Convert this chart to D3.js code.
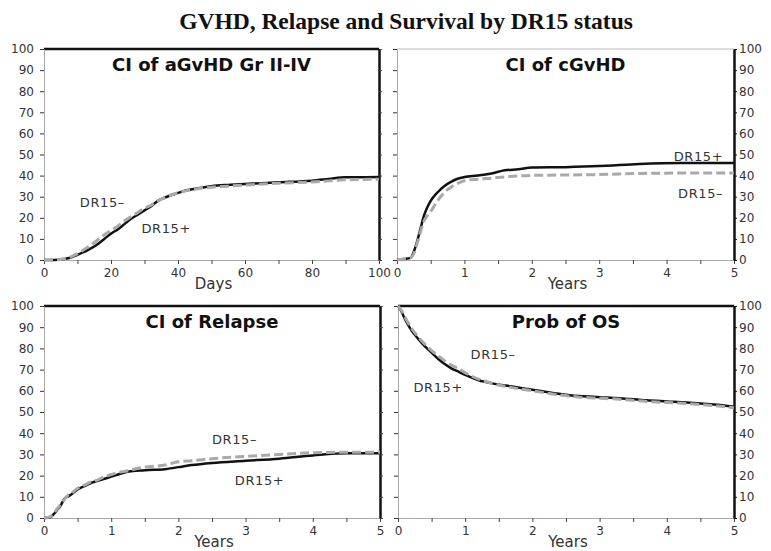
<!DOCTYPE html>
<html>
<head>
<meta charset="utf-8">
<script src="https://cdn.jsdelivr.net/npm/d3@7"></script>
<style>
  body { margin: 0; background: #fff; }
  text { font-family: "DejaVu Sans", Verdana, sans-serif; }
</style>
</head>
<body>
<div id="chart"></div>
<script>
// Values (percent)
var agvhdDays = [0, 3, 6, 8, 10, 12, 14, 16, 18, 20, 22, 24, 26, 28, 30, 32, 34, 36, 38, 40, 43, 46, 50, 55, 60, 65, 70, 80, 85, 90, 100];
var agvhdPos  = [0, 0, 0.5, 1.2, 2.5, 3.8, 5.5, 7.5, 10, 12.5, 14.5, 17, 19.5, 21.5, 23.5, 25.5, 28, 29.5, 30.8, 31.8, 33.2, 34, 35, 35.6, 36, 36.4, 36.8, 37.6, 38.4, 39.2, 39.3];
var agvhdNeg  = [0, 0, 0.6, 1.5, 3, 5, 7, 9.5, 12, 14, 16, 18.5, 20.5, 22.5, 24.5, 26, 28, 29.5, 30.8, 31.8, 33, 33.8, 34.5, 35, 35.5, 36, 36.4, 37, 37.5, 38, 38.3];

var cgvhdYears = [0, 0.1, 0.2, 0.25, 0.3, 0.35, 0.4, 0.45, 0.5, 0.6, 0.7, 0.8, 0.9, 1.0, 1.2, 1.4, 1.6, 1.8, 2.0, 2.5, 3.0, 3.3, 3.6, 4.2, 5];
var cgvhdPos   = [0, 0.5, 1, 4, 9, 15, 21, 25, 28, 32, 35, 37, 38.5, 39.3, 40, 41, 42.5, 43, 43.8, 44, 44.5, 45, 45.5, 46, 46];
var cgvhdNeg   = [0, 0.5, 1, 3, 8, 13.5, 18.5, 21, 23, 28, 32, 34.5, 36.3, 37.6, 38.3, 38.8, 39.4, 39.8, 40.1, 40.3, 40.5, 40.8, 41, 41.2, 41.2];

var relapseYears = [0, 0.1, 0.15, 0.2, 0.25, 0.3, 0.35, 0.4, 0.5, 0.6, 0.7, 0.8, 0.9, 1.0, 1.1, 1.2, 1.5, 1.8, 2.0, 2.2, 2.5, 3.0, 3.5, 4.0, 4.5, 5];
var relapsePos   = [0, 0.5, 2, 4, 6, 9, 10, 11, 13.5, 15, 16.5, 17.5, 18.5, 19.5, 20.5, 21.5, 22.5, 23, 24, 25, 26, 27, 28, 29.5, 30.5, 30.5];
var relapseNeg   = [0, 0.8, 2.5, 4.5, 6.5, 8.5, 10.5, 11.5, 14, 15.5, 17, 18, 19.5, 20.5, 21.5, 22, 24, 25, 26.5, 27, 28, 29, 30, 30.8, 31, 31];

var osYears = [0, 0.05, 0.1, 0.2, 0.3, 0.4, 0.5, 0.6, 0.7, 0.8, 0.9, 1.0, 1.2, 1.4, 1.7, 2.0, 2.3, 2.7, 3.0, 3.3, 3.7, 4.0, 4.3, 4.7, 5];
var osPos   = [100, 97.5, 94, 88.5, 84.5, 81, 78, 75, 72.5, 70.5, 69, 67.5, 65, 63.5, 62, 60.5, 59, 57.5, 57, 56.5, 55.5, 55, 54.5, 53.5, 52.5];
var osNeg   = [100, 98, 95, 89.5, 85.5, 82, 79, 76.5, 74, 72, 70.5, 68.5, 65.5, 63.5, 61.5, 60, 58.5, 57, 56.5, 56, 55, 54.5, 54, 53, 52];

var yTickValues = [0, 10, 20, 30, 40, 50, 60, 70, 80, 90, 100];
var dayTicks = [0, 10, 20, 30, 40, 50, 60, 70, 80, 90, 100];
var yearTicks = [0, 0.5, 1, 1.5, 2, 2.5, 3, 3.5, 4, 4.5, 5];

var svgWidth = 771;
var svgHeight = 551;

var svg = d3.select("#chart")
    .append("svg")
    .attr("width", svgWidth)
    .attr("height", svgHeight);

svg.append("text")
    .attr("x", 406)
    .attr("y", 29)
    .attr("text-anchor", "middle")
    .style("font-family", "'Liberation Serif', 'Times New Roman', serif")
    .style("font-weight", "bold")
    .style("font-size", "23.5px")
    .style("fill", "#111")
    .text("GVHD, Relapse and Survival by DR15 status");

var panels = [
    { title: "CI of aGvHD Gr II-IV", xTitle: "Days", t: agvhdDays, pos: agvhdPos, neg: agvhdNeg,
      xMax: 100, xTicks: dayTicks, major: 20, left: 44, right: 379, top: 49, bottom: 260,
      labelSide: "left", topLine: "black",
      notes: [{ text: "DR15\u2013", x: 10.7, y: 25.3, anchor: "start" }, { text: "DR15+", x: 29.1, y: 12.9, anchor: "start" }] },
    { title: "CI of cGvHD", xTitle: "Years", t: cgvhdYears, pos: cgvhdPos, neg: cgvhdNeg,
      xMax: 5, xTicks: yearTicks, major: 1, left: 397, right: 734, top: 49, bottom: 260,
      labelSide: "right", topLine: "grey",
      notes: [{ text: "DR15+", x: 4.84, y: 47, anchor: "end" }, { text: "DR15\u2013", x: 4.84, y: 29.6, anchor: "end" }] },
    { title: "CI of Relapse", xTitle: "Years", t: relapseYears, pos: relapsePos, neg: relapseNeg,
      xMax: 5, xTicks: yearTicks, major: 1, left: 44, right: 380, top: 306, bottom: 518,
      labelSide: "left", topLine: "black",
      notes: [{ text: "DR15\u2013", x: 2.5, y: 34.8, anchor: "start" }, { text: "DR15+", x: 2.84, y: 15.4, anchor: "start" }] },
    { title: "Prob of OS", xTitle: "Years", t: osYears, pos: osPos, neg: osNeg,
      xMax: 5, xTicks: yearTicks, major: 1, left: 398, right: 734, top: 306, bottom: 518,
      labelSide: "right", topLine: "black",
      notes: [{ text: "DR15\u2013", x: 1.08, y: 74.9, anchor: "start" }, { text: "DR15+", x: 0.23, y: 59.4, anchor: "start" }] }
];

panels.forEach(drawPanel);

function styleAxis(g, lineColor, lineWidth, tickColor) {
    g.select(".domain").attr("stroke", lineColor).attr("stroke-width", lineWidth);
    g.selectAll(".tick line").attr("stroke", tickColor);
    g.selectAll(".tick text").style("font-size", "12px").style("fill", "#333")
        .style("font-family", "'DejaVu Sans', Verdana, sans-serif");
}

function drawPanel(p) {
    var x = d3.scaleLinear().domain([0, p.xMax]).range([p.left, p.right]);
    var y = d3.scaleLinear().domain([0, 100]).range([p.bottom, p.top]);
    var g = svg.append("g");

    // bottom axis
    var xAxis = g.append("g")
        .attr("transform", "translate(0," + p.bottom + ")")
        .call(d3.axisBottom(x).tickValues(p.xTicks).tickSize(4).tickSizeOuter(0).tickPadding(4)
            .tickFormat(function (d) { return (Math.abs(d / p.major - Math.round(d / p.major)) < 1e-6) ? d : ""; }));
    styleAxis(xAxis, "#aaa", 1, "#444");

    // top line
    g.append("line")
        .attr("x1", x.range()[0]).attr("x2", x.range()[1])
        .attr("y1", p.top).attr("y2", p.top)
        .attr("stroke", p.topLine == "black" ? "#111" : "#bbb")
        .attr("stroke-width", p.topLine == "black" ? 2.5 : 1);

    if (p.labelSide == "left") {
        var yl = g.append("g")
            .attr("transform", "translate(" + p.left + ",0)")
            .call(d3.axisLeft(y).tickValues(yTickValues).tickSize(4).tickSizeOuter(0).tickPadding(6));
        styleAxis(yl, "#aaa", 1, "#333");
        var yr = g.append("g")
            .attr("transform", "translate(" + p.right + ",0)")
            .call(d3.axisRight(y).tickValues(yTickValues).tickSize(3).tickSizeOuter(0).tickFormat(""));
        styleAxis(yr, "#111", 2.5, "#444");
    } else {
        var yl2 = g.append("g")
            .attr("transform", "translate(" + p.left + ",0)")
            .call(d3.axisLeft(y).tickValues(yTickValues).tickSize(4).tickSizeOuter(0).tickFormat(""));
        styleAxis(yl2, "#aaa", 1, "#333");
        var yr2 = g.append("g")
            .attr("transform", "translate(" + p.right + ",0)")
            .call(d3.axisRight(y).tickValues(yTickValues).tickSize(3).tickSizeOuter(0).tickPadding(2));
        styleAxis(yr2, "#111", 2.5, "#111");
    }

    // curves
    var line = d3.line()
        .x(function (d) { return x(d[0]); })
        .y(function (d) { return y(d[1]); })
        .curve(d3.curveMonotoneX);

    g.append("path")
        .datum(d3.zip(p.t, p.pos))
        .attr("d", line)
        .attr("fill", "none")
        .attr("stroke", "#111")
        .attr("stroke-width", 2.5);

    g.append("path")
        .datum(d3.zip(p.t, p.neg))
        .attr("d", line)
        .attr("fill", "none")
        .attr("stroke", "#a9a9a9")
        .attr("stroke-width", 3)
        .attr("stroke-dasharray", "9,4");

    // titles
    g.append("text")
        .attr("x", (p.left + p.right) / 2)
        .attr("y", p.top + 22)
        .attr("text-anchor", "middle")
        .style("font-weight", "bold")
        .style("font-size", "18px")
        .style("fill", "#111")
        .text(p.title);

    g.append("text")
        .attr("x", (p.left + p.right) / 2 + 2)
        .attr("y", p.bottom + 29)
        .attr("text-anchor", "middle")
        .style("font-size", "15px")
        .style("fill", "#333")
        .text(p.xTitle);

    g.selectAll(".note")
        .data(p.notes)
        .enter()
        .append("text")
        .attr("x", function (d) { return x(d.x); })
        .attr("y", function (d) { return y(d.y); })
        .attr("text-anchor", function (d) { return d.anchor; })
        .style("font-size", "13px")
        .style("letter-spacing", "0.6px")
        .style("fill", "#333")
        .text(function (d) { return d.text; });
}
</script>
</body>
</html>
